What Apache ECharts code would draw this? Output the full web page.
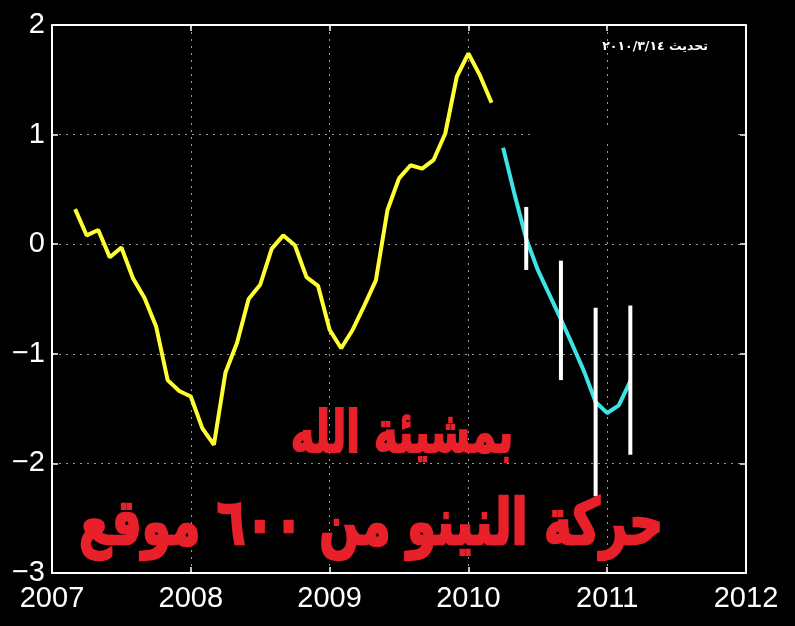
<!DOCTYPE html>
<html>
<head>
<meta charset="utf-8">
<script src="https://cdn.jsdelivr.net/npm/echarts@6/dist/echarts.min.js"></script>
<style>
html,body{margin:0;padding:0;background:#000;}
#c{width:795px;height:626px;}
</style>
</head>
<body>
<div id="c"></div>
<script>
// ---- data ----
const firstMonth = 2;            // months after Jan 2007 of first observed value
const observed = [0.32, 0.08, 0.13, -0.12, -0.03, -0.31, -0.49, -0.75, -1.24, -1.34, -1.39, -1.68,
  -1.83, -1.17, -0.90, -0.50, -0.37, -0.04, 0.08, -0.01, -0.30, -0.38, -0.78, -0.95,
  -0.78, -0.56, -0.33, 0.31, 0.60, 0.72, 0.69, 0.77, 1.01, 1.53, 1.74, 1.54, 1.29];
const forecastFirstMonth = 39;
const forecast = [0.88, 0.45, 0.05, -0.235, -0.46, -0.685, -0.92, -1.16, -1.44, -1.54, -1.47, -1.25];
const errMonths = [41, 44, 47, 50];
const errLow = [-0.235, -1.24, -2.30, -1.92];
const errHigh = [0.34, -0.15, -0.58, -0.56];
const xTicks = [2007, 2008, 2009, 2010, 2011, 2012];
const yTicks = [-3, -2, -1, 0, 1, 2];
const titleSmall = 'بمشيئة الله';
const titleBig = 'حركة النينو من ٦٠٠ موقع';
const updateText = 'تحديث ٢٠١٠/٣/١٤';

const m2x = m => 2007 + m / 12;
const obsData = observed.map((v, i) => [m2x(firstMonth + i), v]);
const fcData = forecast.map((v, i) => [m2x(forecastFirstMonth + i), v]);
const errData = errMonths.map((m, i) => [m2x(m), errLow[i], errHigh[i]]);

const chart = echarts.init(document.getElementById('c'));
const axisCommon = {
  axisLine: {show: true, onZero: false, lineStyle: {color: '#fff', width: 2}},
  axisTick: {show: true, inside: true, length: 6, lineStyle: {color: '#fff', width: 1.5}},
};
const labelFont = {color: '#fff', fontSize: 29, fontFamily: 'Liberation Sans, Arial, sans-serif'};
const fmtMinus = v => String(v).replace('-', '\u2212');
const red = '#e8202a';

chart.setOption({
  backgroundColor: '#000',
  animation: false,
  grid: {left: 52, right: 49, top: 25, bottom: 53, containLabel: false},
  xAxis: [
    Object.assign({
      type: 'value', min: xTicks[0], max: xTicks[xTicks.length - 1], interval: 1, position: 'bottom',
      axisLabel: Object.assign({margin: 11, formatter: v => String(v)}, labelFont),
      splitLine: {show: true, lineStyle: {color: '#9a9a9a', width: 1, type: [2, 5]}}
    }, axisCommon),
    Object.assign({
      type: 'value', min: xTicks[0], max: xTicks[xTicks.length - 1], interval: 1, position: 'top',
      axisLabel: {show: false}, splitLine: {show: false}
    }, axisCommon)
  ],
  yAxis: [
    Object.assign({
      type: 'value', min: yTicks[0], max: yTicks[yTicks.length - 1], interval: 1, position: 'left',
      axisLabel: Object.assign({margin: 7, padding: [6, 0, 0, 0], formatter: fmtMinus}, labelFont),
      splitLine: {show: true, lineStyle: {color: '#9a9a9a', width: 1, type: [2, 5]}}
    }, axisCommon),
    Object.assign({
      type: 'value', min: yTicks[0], max: yTicks[yTicks.length - 1], interval: 1, position: 'right',
      axisLabel: {show: false}, splitLine: {show: false}
    }, axisCommon)
  ],
  graphic: [
    {type: 'rect', z: 1, shape: {x: 535, y: 130, width: 203, height: 9}, style: {fill: '#000'}},
    {type: 'text', z: 10, x: 655, y: 47, style: {text: updateText, fill: '#fff', font: 'bold 12.5px "DejaVu Sans", sans-serif', align: 'center', verticalAlign: 'middle'}},
    {type: 'text', z: 10, x: 402, y: 437, scaleY: 1.45, style: {text: titleSmall, fill: red, stroke: red, lineWidth: 1.5, font: 'bold 40px "DejaVu Sans", sans-serif', align: 'center', verticalAlign: 'middle'}},
    {type: 'text', z: 10, x: 371, y: 528, scaleY: 1.35, style: {text: titleBig, fill: red, stroke: red, lineWidth: 2, font: 'bold 47px "DejaVu Sans", sans-serif', align: 'center', verticalAlign: 'middle'}}
  ],
  series: [
    {type: 'line', data: obsData, showSymbol: false, symbol: 'none', lineStyle: {color: '#ffff33', width: 4}, z: 3},
    {type: 'line', data: fcData, showSymbol: false, symbol: 'none', lineStyle: {color: '#3fe3e3', width: 4}, z: 3},
    {
      type: 'custom', data: errData, z: 4,
      encode: {x: 0, y: [1, 2]},
      renderItem: (params, api) => {
        const p1 = api.coord([api.value(0), api.value(1)]);
        const p2 = api.coord([api.value(0), api.value(2)]);
        return {type: 'line', shape: {x1: p1[0], y1: p1[1], x2: p2[0], y2: p2[1]}, style: {stroke: '#fff', lineWidth: 4}};
      }
    }
  ]
});
</script>
</body>
</html>
